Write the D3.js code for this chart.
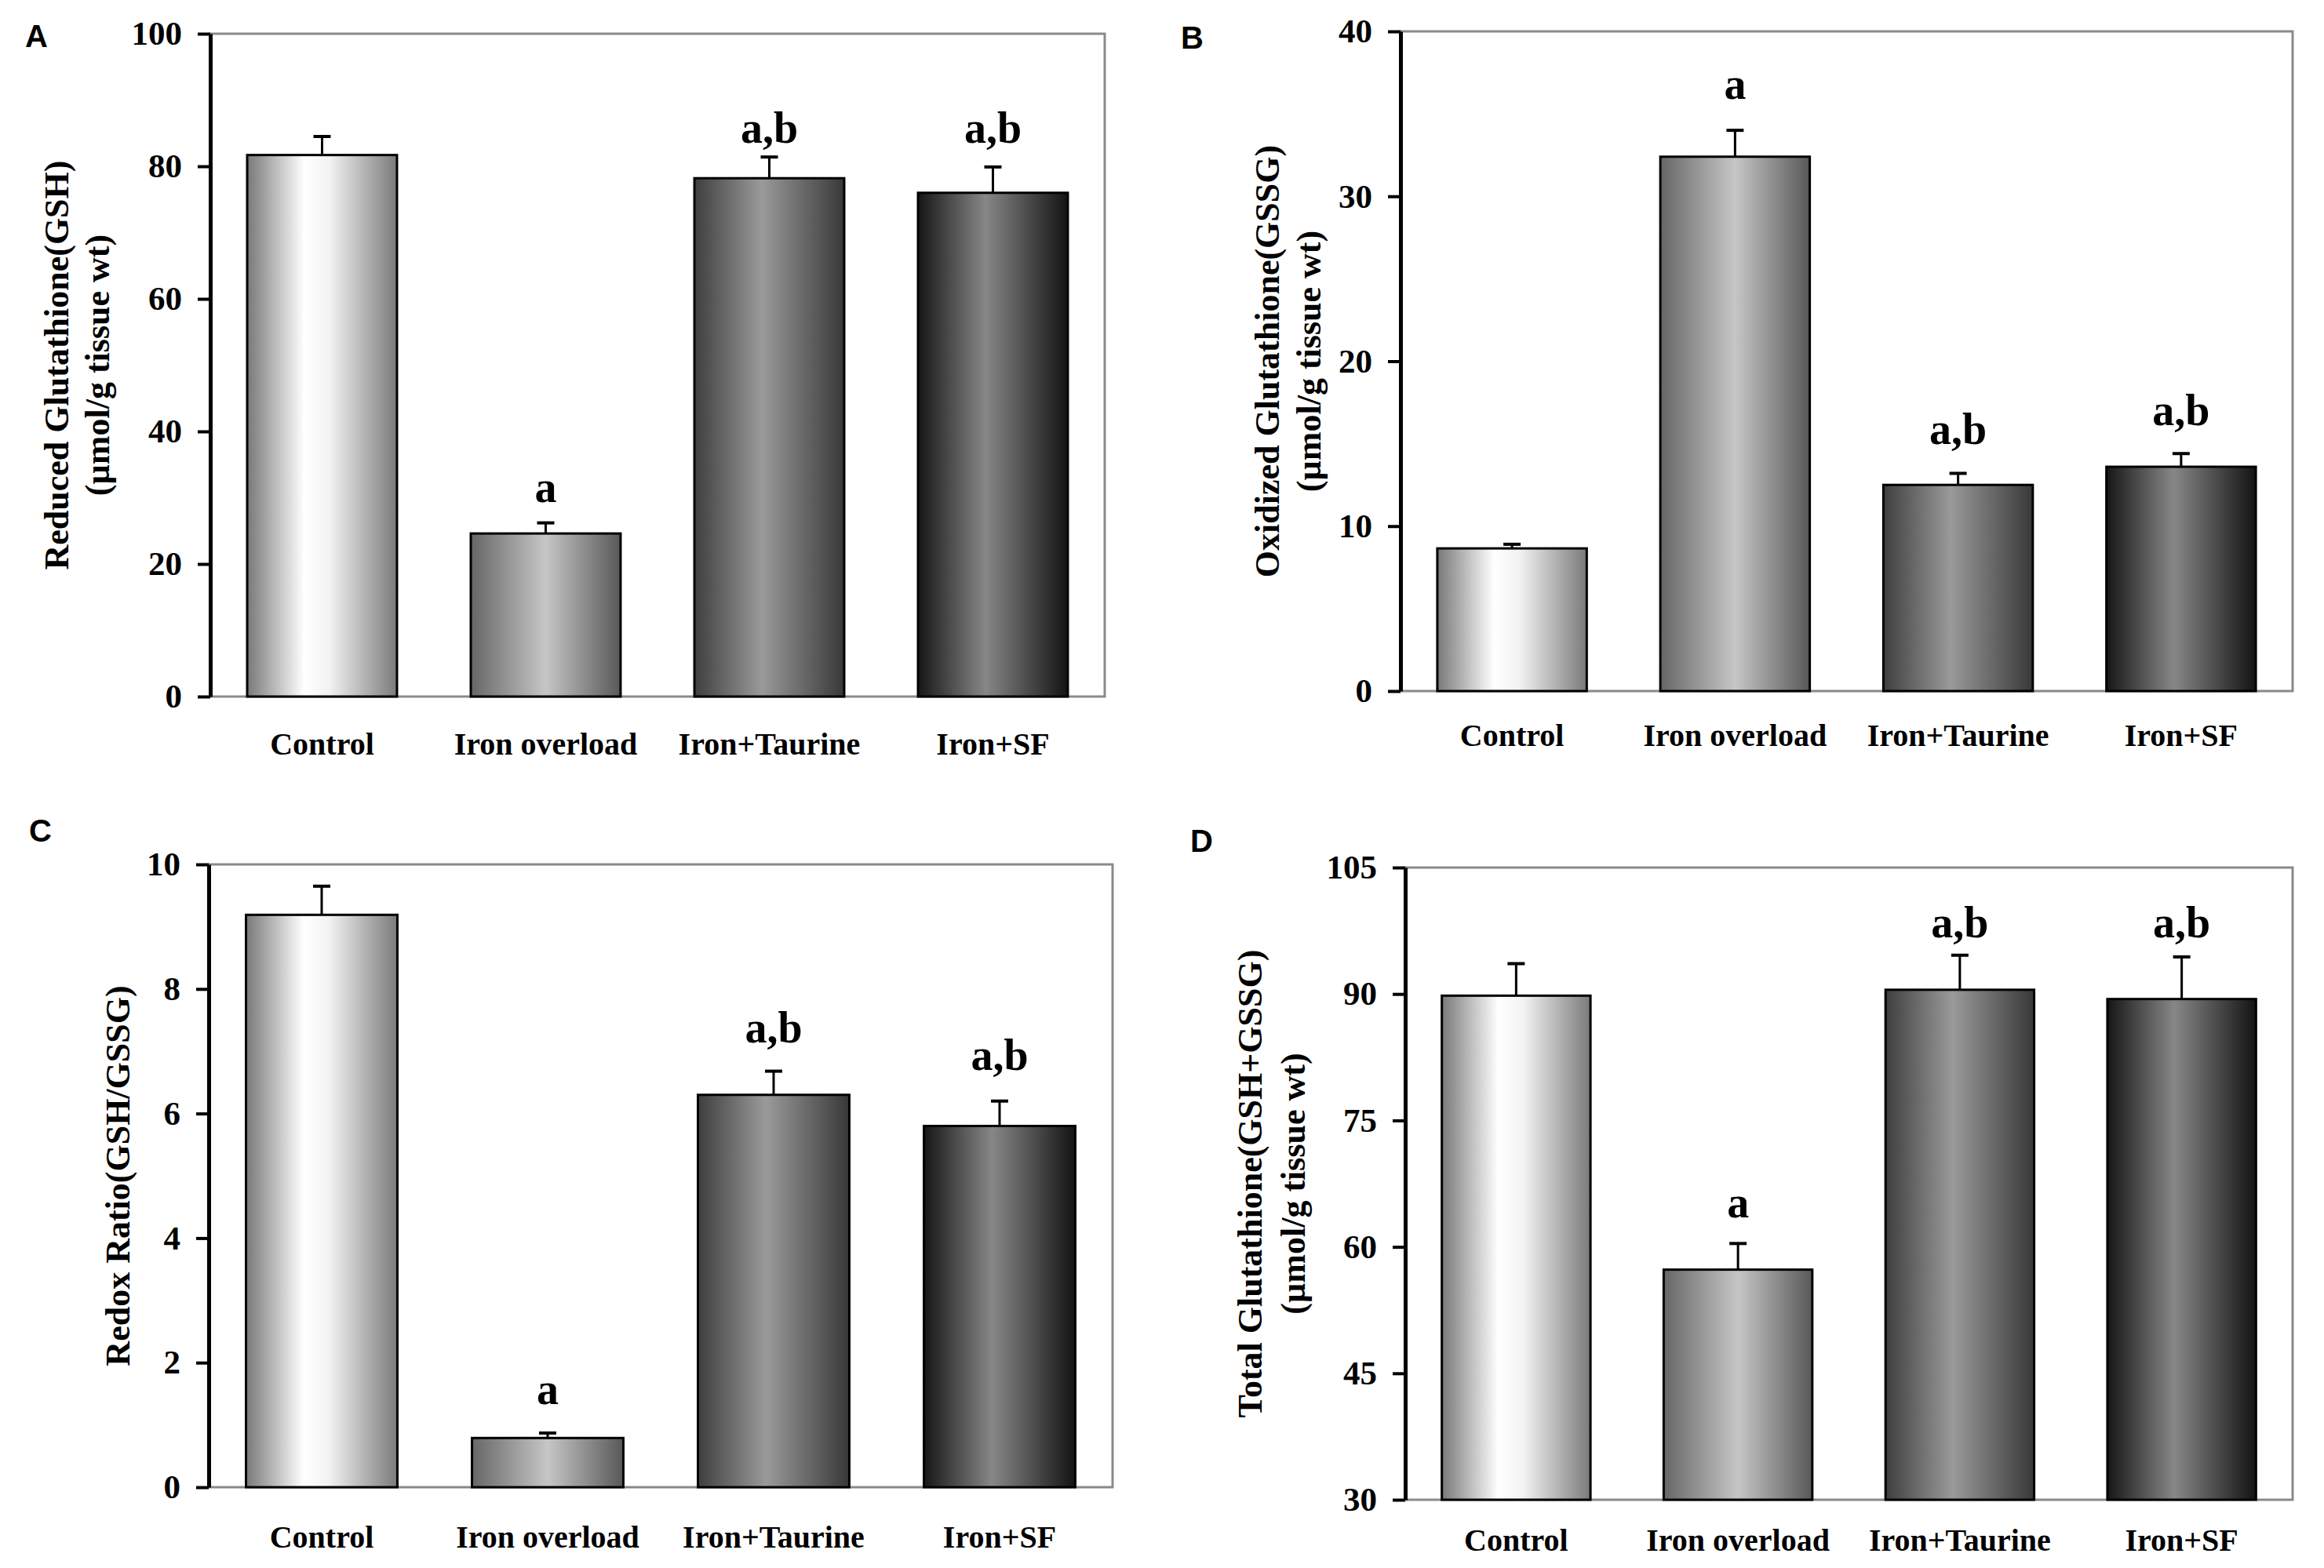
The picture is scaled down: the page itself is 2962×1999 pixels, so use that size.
<!DOCTYPE html>
<html>
<head>
<meta charset="utf-8">
<script src="https://cdn.jsdelivr.net/npm/d3@7"></script>
<style>
  body { margin: 0; background: #fff; }
  svg { display: block; }
</style>
</head>
<body>
<svg id="drawing_region"></svg>
<script>
// values
const categories = ["Control", "Iron overload", "Iron+Taurine", "Iron+SF"];

const gshMean = [81.7, 24.6, 78.2, 76.0];
const gshErr = [2.8, 1.6, 3.2, 3.9];
const gshSig = ["", "a", "a,b", "a,b"];
const gshSigAt = [null, 29.3, 83.5, 83.5];
const gshTicks = [0, 20, 40, 60, 80, 100];

const gssgMean = [8.65, 32.4, 12.5, 13.6];
const gssgErr = [0.25, 1.6, 0.7, 0.8];
const gssgSig = ["", "a", "a,b", "a,b"];
const gssgSigAt = [null, 35.9, 15.0, 16.1];
const gssgTicks = [0, 10, 20, 30, 40];

const redoxMean = [9.19, 0.79, 6.3, 5.8];
const redoxErr = [0.46, 0.08, 0.38, 0.4];
const redoxSig = ["", "a", "a,b", "a,b"];
const redoxSigAt = [null, 1.33, 7.14, 6.7];
const redoxTicks = [0, 2, 4, 6, 8, 10];

const totalMean = [89.8, 57.3, 90.5, 89.4];
const totalErr = [3.8, 3.1, 4.1, 5.0];
const totalSig = ["", "a", "a,b", "a,b"];
const totalSigAt = [null, 63.5, 96.7, 96.7];
const totalTicks = [30, 45, 60, 75, 90, 105];

const serif = "'Liberation Serif', 'Times New Roman', serif";
const sans = "'Liberation Sans', Arial, sans-serif";

const svg = d3.select('#drawing_region')
    .attr('width', 2962)
    .attr('height', 1999);

svg.append('rect').attr('width', 2962).attr('height', 1999).attr('fill', '#fff');

// one horizontal gradient per group
const gradients = [
    [[0, '#787878'], [0.38, '#ffffff'], [0.55, '#f2f2f2'], [1, '#7a7a7a']],
    [[0, '#666666'], [0.5, '#c6c6c6'], [1, '#585858']],
    [[0, '#3e3e3e'], [0.45, '#9a9a9a'], [1, '#383838']],
    [[0, '#161616'], [0.45, '#878787'], [1, '#131313']]
];
const defs = svg.append('defs');
gradients.forEach( (stops, i) => {
    const g = defs.append('linearGradient')
        .attr('id', 'grad' + i)
        .attr('x1', '0%').attr('x2', '100%')
        .attr('y1', '0%').attr('y2', '0%');
    stops.forEach( s => {
        g.append('stop').attr('offset', s[0]).attr('stop-color', s[1]);
    });
});

function drawPanel( cfg, mean, err, sig, sigAt, ticks ) {
    const x = d3.scaleBand()
        .domain( categories )
        .range( [cfg.left, cfg.right] )
        .paddingInner( 0.33 )
        .paddingOuter( 0.165 );
    const y = d3.scaleLinear()
        .domain( [ticks[0], ticks[ticks.length - 1]] )
        .range( [cfg.bottom, cfg.top] );

    const g = svg.append('g');

    // grey frame
    g.append('rect')
        .attr('x', cfg.left)
        .attr('y', cfg.top)
        .attr('width', cfg.right - cfg.left)
        .attr('height', cfg.bottom - cfg.top)
        .attr('fill', 'none')
        .attr('stroke', '#8a8a8a')
        .attr('stroke-width', 3);

    const rows = categories.map( (c, i) => ({ c: c, i: i, v: mean[i], e: err[i], s: sig[i], at: sigAt[i] }) );

    // error bars (upper only)
    g.selectAll('.err-line')
        .data( rows )
        .enter()
        .append('line')
        .attr('x1', d => x(d.c) + x.bandwidth() / 2)
        .attr('x2', d => x(d.c) + x.bandwidth() / 2)
        .attr('y1', d => y(d.v))
        .attr('y2', d => y(d.v + d.e))
        .attr('stroke', '#000')
        .attr('stroke-width', 3);

    g.selectAll('.err-cap')
        .data( rows )
        .enter()
        .append('line')
        .attr('x1', d => x(d.c) + x.bandwidth() / 2 - 11)
        .attr('x2', d => x(d.c) + x.bandwidth() / 2 + 11)
        .attr('y1', d => y(d.v + d.e))
        .attr('y2', d => y(d.v + d.e))
        .attr('stroke', '#000')
        .attr('stroke-width', 4);

    g.selectAll('.bar')
        .data( rows )
        .enter()
        .append('rect')
        .attr('x', d => x(d.c))
        .attr('y', d => y(d.v))
        .attr('width', x.bandwidth())
        .attr('height', d => y(ticks[0]) - y(d.v))
        .attr('fill', d => 'url(#grad' + d.i + ')')
        .attr('stroke', '#000')
        .attr('stroke-width', 3);

    // significance letters
    g.selectAll('.sig')
        .data( rows.filter( d => d.s ) )
        .enter()
        .append('text')
        .attr('x', d => x(d.c) + x.bandwidth() / 2)
        .attr('y', d => y(d.at))
        .attr('text-anchor', 'middle')
        .style('font-family', serif)
        .style('font-weight', 'bold')
        .style('font-size', '56px')
        .text( d => d.s );

    // y axis
    const yaxis = d3.axisLeft( y )
        .tickValues( ticks )
        .tickSize( 16 )
        .tickSizeOuter( 0 )
        .tickPadding( 20 );
    const ag = g.append('g')
        .attr('transform', `translate(${cfg.left}, 0)`)
        .call( yaxis );
    ag.select('.domain').attr('stroke', '#000').attr('stroke-width', 5);
    ag.selectAll('.tick line').attr('stroke', '#000').attr('stroke-width', 4);
    ag.selectAll('.tick text')
        .attr('fill', '#000')
        .style('font-family', serif)
        .style('font-weight', 'bold')
        .style('font-size', '43px');

    // category labels
    g.selectAll('.cat')
        .data( categories )
        .enter()
        .append('text')
        .attr('x', d => x(d) + x.bandwidth() / 2)
        .attr('y', cfg.catY)
        .attr('text-anchor', 'middle')
        .style('font-family', serif)
        .style('font-weight', 'bold')
        .style('font-size', '40px')
        .text( d => d );

    // y title
    const cy = (cfg.top + cfg.bottom) / 2;
    cfg.title.forEach( (t, k) => {
        g.append('text')
            .attr('transform', `translate(${cfg.titleX[k]}, ${cy}) rotate(-90)`)
            .attr('text-anchor', 'middle')
            .attr('dy', '0.35em')
            .style('font-family', serif)
            .style('font-weight', 'bold')
            .style('font-size', '44px')
            .text( t );
    });

    // panel letter
    g.append('text')
        .attr('x', cfg.letterX)
        .attr('y', cfg.letterY)
        .style('font-family', sans)
        .style('font-weight', 'bold')
        .style('font-size', '40px')
        .text( cfg.letter );
}

drawPanel({ left: 268, right: 1408, top: 43, bottom: 888, catY: 962,
            title: ["Reduced Glutathione(GSH)", "(\u00b5mol/g tissue wt)"], titleX: [72, 124],
            letter: "A", letterX: 32, letterY: 60 },
          gshMean, gshErr, gshSig, gshSigAt, gshTicks);

drawPanel({ left: 1785, right: 2922, top: 40, bottom: 881, catY: 951,
            title: ["Oxidized Glutathione(GSSG)", "(\u00b5mol/g tissue wt)"], titleX: [1615, 1668],
            letter: "B", letterX: 1505, letterY: 62 },
          gssgMean, gssgErr, gssgSig, gssgSigAt, gssgTicks);

drawPanel({ left: 266, right: 1418, top: 1102, bottom: 1896, catY: 1973,
            title: ["Redox Ratio(GSH/GSSG)"], titleX: [150],
            letter: "C", letterX: 37, letterY: 1073 },
          redoxMean, redoxErr, redoxSig, redoxSigAt, redoxTicks);

drawPanel({ left: 1791, right: 2922, top: 1106, bottom: 1912, catY: 1977,
            title: ["Total Glutathione(GSH+GSSG)", "(\u00b5mol/g tissue wt)"], titleX: [1593, 1648],
            letter: "D", letterX: 1517, letterY: 1086 },
          totalMean, totalErr, totalSig, totalSigAt, totalTicks);
</script>
</body>
</html>
